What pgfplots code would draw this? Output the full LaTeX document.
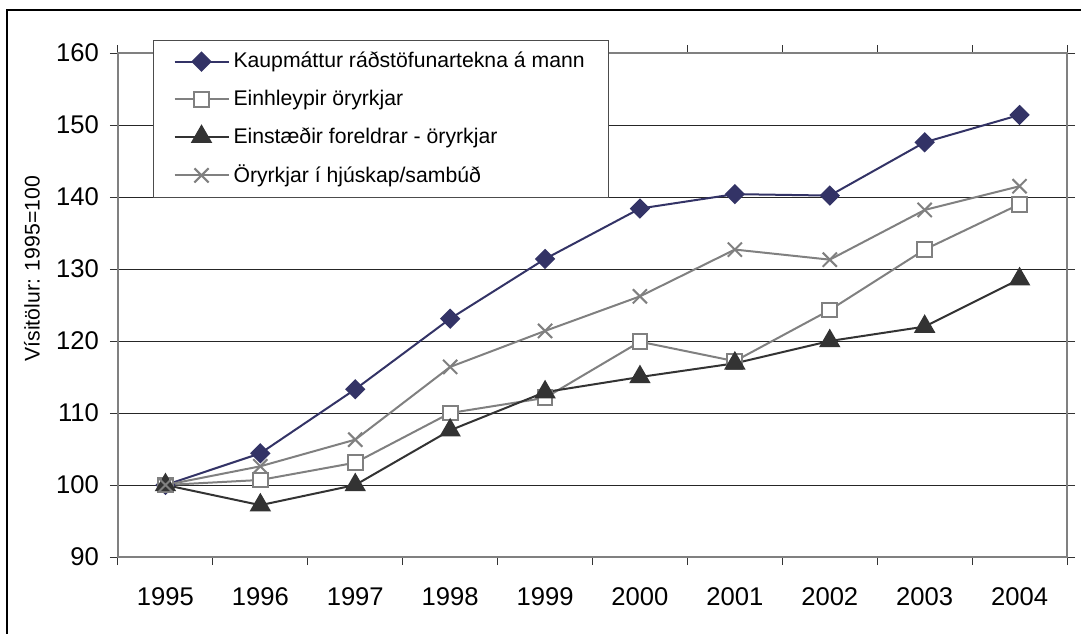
\documentclass[border=0pt]{standalone}
\usepackage{fontspec}
\setmainfont{Liberation Sans}
\usepackage{pgfplots}
\pgfplotsset{compat=1.18}
\definecolor{kaupnavy}{RGB}{51,51,102}
\definecolor{midgrey}{RGB}{128,128,128}
\definecolor{darkgrey}{RGB}{51,51,51}
\newcommand{\chartfont}{\fontsize{10.6}{12.7}\selectfont}
\newcommand{\tickfont}{\fontsize{12.8}{15}\selectfont}
\begin{document}
\begin{tikzpicture}
\useasboundingbox (-59pt,-38pt) rectangle (481.5pt,278.5pt);
% outer chart frame (only left and top edges visible)
\draw[black, line width=0.6pt] (-55.5pt,-60pt) -- (-55.5pt,273.5pt) -- (520pt,273.5pt);
\begin{axis}[
  at={(0,0)}, anchor=south west,
  scale only axis, width=474.5pt, height=252pt,
  xmin=-0.5, xmax=9.5, ymin=90, ymax=160,
  xtick={-0.5,0.5,...,9.5},
  xticklabels={1995,1996,1997,1998,1999,2000,2001,2002,2003,2004},
  x tick label as interval=true,
  ytick={90,100,...,160},
  tick align=outside, major tick length=4pt,
  tick style={black!80, line width=0.5pt},
  ymajorgrids=true, grid style={black!85, line width=0.5pt},
  axis line style={midgrey, line width=1pt},
  /pgf/number format/assume math mode=true,
  /pgf/number format/1000 sep={},
  ticklabel style={font=\tickfont},
  yticklabel style={xshift=-2pt},
  xticklabel style={yshift=-8pt},
  ylabel={Vísitölur: 1995=100},
  ylabel style={font=\chartfont, at={(axis description cs:-0.0906,0.572)}, anchor=center},
  legend image code/.code={\draw[mark repeat=2,mark phase=2] plot coordinates {(0pt,0pt)(13.5pt,0pt)(27pt,0pt)};},
  legend style={at={(0.037,1.026)}, anchor=north west, draw=black!70,
                font=\chartfont, row sep=5.5pt, inner xsep=10pt, inner ysep=4pt,
                cells={anchor=west}},
  legend cell align=left,
]
\addplot[kaupnavy, line width=1pt, mark=square*, mark size=3.1pt,
         mark options={rotate=45, fill=kaupnavy, solid}]
  coordinates {(0,100)(1,104.4)(2,113.3)(3,123.1)(4,131.4)(5,138.4)(6,140.4)(7,140.2)(8,147.6)(9,151.4)};
\addlegendentry{Kaupmáttur ráðstöfunartekna á mann}
\addplot[midgrey, line width=1pt, mark=square*, mark size=3.7pt,
         mark options={fill=white, draw=midgrey, line width=1pt}]
  coordinates {(0,100)(1,100.7)(2,103.1)(3,110.0)(4,112.1)(5,119.9)(6,117.2)(7,124.3)(8,132.7)(9,139.0)};
\addlegendentry{Einhleypir öryrkjar}
\addplot[darkgrey, line width=1pt, mark=triangle*, mark size=5.2pt,
         mark options={fill=darkgrey, draw=darkgrey}]
  coordinates {(0,100)(1,97.2)(2,100.0)(3,107.6)(4,112.9)(5,115.0)(6,116.9)(7,120.0)(8,122.0)(9,128.6)};
\addlegendentry{Einstæðir foreldrar - öryrkjar}
\addplot[midgrey, line width=1pt, mark=x, mark size=5pt,
         mark options={draw=midgrey, line width=1pt}]
  coordinates {(0,100)(1,102.6)(2,106.3)(3,116.4)(4,121.4)(5,126.2)(6,132.7)(7,131.3)(8,138.2)(9,141.5)};
\addlegendentry{Öryrkjar í hjúskap/sambúð}
\end{axis}
\end{tikzpicture}
\end{document}
